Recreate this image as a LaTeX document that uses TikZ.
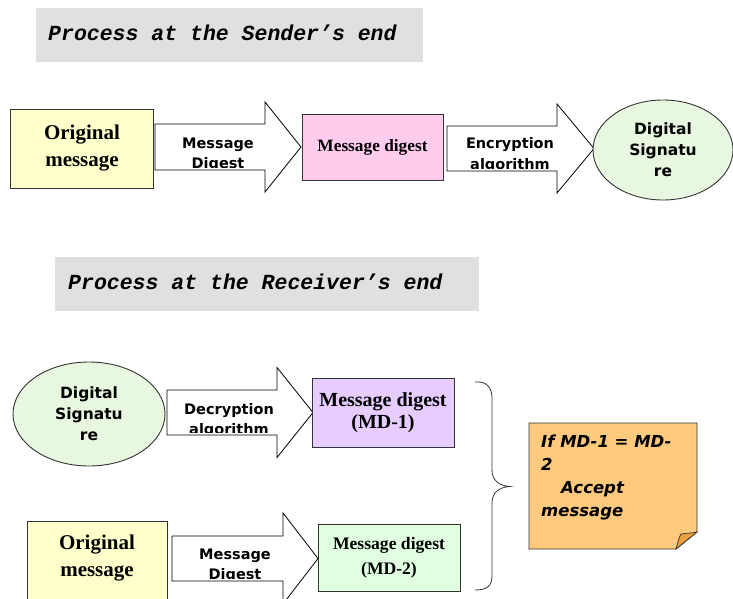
\documentclass[tikz,border=0pt]{standalone}
\usepackage{fontspec}
\setmainfont{Liberation Serif}
\newfontfamily\dvs{DejaVu Sans}[ItalicFont={DejaVu Sans Oblique},BoldItalicFont={DejaVu Sans Bold Oblique}]
\newfontfamily\cour{Liberation Mono}
\usetikzlibrary{shapes.geometric}

\definecolor{titlegray}{HTML}{E0E0E0}
\definecolor{paleyellow}{HTML}{FFFFCC}
\definecolor{palepink}{HTML}{FFCCEE}
\definecolor{palegreen}{HTML}{E8F8E0}
\definecolor{lavender}{HTML}{E6CCFF}
\definecolor{mintgreen}{HTML}{E0FFE0}
\definecolor{notefill}{HTML}{FFCA7E}
\definecolor{foldfill}{HTML}{E8A040}
\definecolor{edge}{HTML}{333333}

\tikzset{
  titlebar/.style={fill=titlegray, draw=none, inner sep=0, anchor=north west},
  titletext/.style={font=\cour\bfseries\itshape\fontsize{21.5}{24}\selectfont, anchor=west, inner sep=0},
  msgbox/.style={draw=edge, line width=0.9pt, inner sep=0, align=center,
    font=\bfseries\fontsize{21}{27}\selectfont},
  sigellipse/.style={ellipse, draw=edge, line width=0.9pt, fill=palegreen, inner sep=0,
    align=center, font=\dvs\bfseries\fontsize{15.5}{21}\selectfont},
  blockarrow/.style={draw=black, line width=0.8pt, fill=white},
  arrowtext/.style={font=\dvs\bfseries\fontsize{14.5}{18}\selectfont, anchor=base, inner sep=0},
  notetext/.style={font=\dvs\bfseries\itshape\fontsize{16.5}{23}\selectfont, align=left,
    anchor=west, inner sep=0},
}

% block arrow: #1 left, #2 head start, #3 tip x, #4 centre y, #5 body half, #6 head half
\newcommand{\blockarrowpath}[6]{%
  \draw[blockarrow] (#1,#4-#5) -- (#2,#4-#5) -- (#2,#4-#6) -- (#3,#4)
    -- (#2,#4+#6) -- (#2,#4+#5) -- (#1,#4+#5) -- cycle;}

\begin{document}
\begin{tikzpicture}[x=1pt,y=-1pt]
\clip (0,0) rectangle (733,599);
\fill[white] (0,0) rectangle (733,599);

% ---------- sender side ----------
\node[titlebar, minimum width=387pt, minimum height=54pt] (sendbar) at (36,8) {};
\node[titletext] (sendtitle) at (48,33) {Process at the Sender’s end};

\node[msgbox, fill=paleyellow, minimum width=143pt, minimum height=79pt] (orig1) at (82,148.5) {Original\\message};

% the second caption line runs under the arrow body and is cut off by it
\blockarrowpath{155}{265}{301}{147}{23}{45}
\begin{scope}
  \clip (155,124.4) rectangle (265,167.5);
  \node[arrowtext] (hash1a) at (218,148) {Message};
  \node[arrowtext] (hash1b) at (218,168.5) {Digest};
\end{scope}

\node[msgbox, fill=palepink, minimum width=141pt, minimum height=66pt,
  font=\bfseries\fontsize{17.3}{22}\selectfont] (digest) at (372.5,147) {Message digest};

\blockarrowpath{447}{557}{594}{148.5}{22.5}{44.5}
\begin{scope}
  \clip (447,126.4) rectangle (557,168.5);
  \node[arrowtext] (encA) at (510,149) {Encryption};
  \node[arrowtext] (encB) at (510,169.5) {algorithm};
\end{scope}

\node[sigellipse, minimum width=140pt, minimum height=100pt] (sig1) at (663,150) {Digital\\Signatu\\re};

% ---------- receiver side ----------
\node[titlebar, minimum width=424pt, minimum height=54pt] (recvbar) at (55,257) {};
\node[titletext] (recvtitle) at (68,282) {Process at the Receiver’s end};

\node[sigellipse, minimum width=152pt, minimum height=104pt] (sig2) at (89,414) {Digital\\Signatu\\re};

\blockarrowpath{167}{277}{313}{412.5}{22.5}{45}
\begin{scope}
  \clip (167,390.4) rectangle (277,432.5);
  \node[arrowtext] (decA) at (229,414) {Decryption};
  \node[arrowtext] (decB) at (229,434.5) {algorithm};
\end{scope}

\node[msgbox, fill=lavender, minimum width=142pt, minimum height=69pt,
  font=\bfseries\fontsize{20}{22}\selectfont] (md1) at (383,412.5) {Message digest\\(MD-1)};

\node[msgbox, fill=paleyellow, minimum width=140pt, minimum height=89pt] (orig2) at (97,565.5) {};
\node[inner sep=0, align=center, font=\bfseries\fontsize{21}{27}\selectfont] (orig2text) at (97,558.5) {Original\\message};

\blockarrowpath{172}{283}{318}{558.5}{22.5}{45.5}
\begin{scope}
  \clip (172,536.4) rectangle (283,578.5);
  \node[arrowtext] (hash2a) at (235,559) {Message};
  \node[arrowtext] (hash2b) at (235,579.5) {Digest};
\end{scope}

\node[msgbox, fill=mintgreen, minimum width=142pt, minimum height=67pt,
  font=\bfseries\fontsize{17.6}{25}\selectfont] (md2) at (389,557.5) {Message digest\\(MD-2)};

% brace gathering both digests
\draw[line width=0.8pt, edge] (475,382) .. controls (487,381) and (492,388) .. (492,398)
  -- (492,470) .. controls (492,481) and (500,486) .. (510,486.5)
  .. controls (500,487) and (492,492) .. (492,503)
  -- (492,576) .. controls (492,586) and (487,590) .. (475,590);

% sticky note with the verdict
\coordinate (noteNW) at (529,423);
\coordinate (noteSE) at (697,549);
\draw[draw=edge, line width=0.9pt, fill=notefill] (noteNW) -- (697,423) -- (697,532)
  -- (676,549) -- (529,549) -- cycle;
\draw[draw=edge, line width=0.7pt, fill=foldfill] (676,549) .. controls (678,542) and (679,537) .. (681,534)
  .. controls (688,533) and (693,533) .. (697,532) -- cycle;
\node[notetext] (verdict) at (541,478) {If MD-1 = MD-\\2\\\hspace*{20pt}Accept\\message};
\end{tikzpicture}
\end{document}
